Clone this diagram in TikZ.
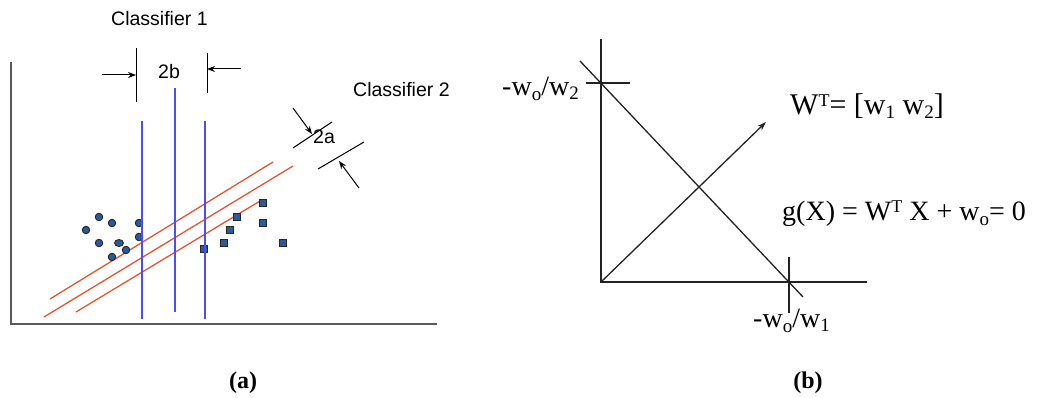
\documentclass[tikz,border=0pt]{standalone}
\usepackage{fontspec}
\setmainfont{Liberation Serif}
\newfontfamily\arialf{Liberation Sans}
\usetikzlibrary{arrows.meta,shapes.geometric}
\definecolor{axgray}{HTML}{5A5A5A}
\definecolor{clsblue}{HTML}{4B4BFF}
\definecolor{clsred}{HTML}{E2562F}
\definecolor{ptfill}{HTML}{2A5A9A}
\definecolor{inkb}{HTML}{222222}
\newcommand\mysub[2][5pt]{\raisebox{-#1}{\fontsize{19}{19}\selectfont #2}}
\newcommand\mysup[2][8pt]{\raisebox{#1}{\fontsize{18}{18}\selectfont #2}}
\begin{document}
\begin{tikzpicture}[x=1pt,y=-1pt,
  lbl/.style={inner sep=0pt, anchor=base west},
  sanslbl/.style={lbl, font=\arialf\fontsize{19.5}{19.5}\selectfont},
  seriflbl/.style={lbl, font=\fontsize{28}{28}\selectfont},
  caplbl/.style={inner sep=0pt, font=\bfseries\fontsize{24}{24}\selectfont},
  axisa/.style={draw=axgray, line width=1.6pt},
  axisb/.style={draw=inkb, line width=1.3pt},
  blueln/.style={draw=clsblue, line width=1.5pt},
  redln/.style={draw=clsred, line width=1.3pt},
  tickln/.style={draw=black, line width=1pt},
  smallarr/.style={draw=black, line width=1pt, -{Stealth[length=8pt,width=6pt]}},
  bigarr/.style={draw=inkb, line width=1.3pt, -{Stealth[length=9pt,width=6pt]}},
  circpt/.style={circle, draw=black!85, fill=ptfill, line width=0.9pt, minimum size=7.5pt, inner sep=0pt},
  ellpt/.style={ellipse, draw=black!85, fill=ptfill, line width=0.9pt, minimum width=9pt, minimum height=7pt, inner sep=0pt},
  sqpt/.style={rectangle, draw=black!85, fill=ptfill, line width=0.9pt, minimum size=#1, inner sep=0pt},
  sqpt/.default=7.5pt
]
\useasboundingbox (0,0) rectangle (1040,398);

% ---------------- panel (a) ----------------
\coordinate (a0) at (11,62);
\coordinate (a1) at (11,324);
\coordinate (a2) at (437,324);
\draw[axisa] (a0) -- (a1) -- (a2);

% red classifier lines
\coordinate (r1s) at (50,299);  \coordinate (r1e) at (273,162);
\coordinate (r2s) at (44,317);  \coordinate (r2e) at (293,166);
\coordinate (r3s) at (76,312);  \coordinate (r3e) at (260,201);
\draw[redln] (r1s) -- (r1e);
\draw[redln] (r2s) -- (r2e);
\draw[redln] (r3s) -- (r3e);

% points
\node[circpt] (c1) at (99,217) {};
\node[circpt] (c2) at (112,223) {};
\node[circpt] (c3) at (86,230) {};
\node[circpt] (c4) at (139,223) {};
\node[circpt] (c5) at (139,237) {};
\node[circpt] (c6) at (99,243) {};
\node[ellpt]  (c7) at (119,243) {};
\node[circpt] (c8) at (126,250) {};
\node[circpt] (c9) at (112,257) {};

\node[sqpt] (s1) at (263,203) {};
\node[sqpt] (s2) at (237,217) {};
\node[sqpt] (s3) at (263,223) {};
\node[sqpt=6.5pt] (s4) at (230,230) {};
\node[sqpt] (s5) at (224,243) {};
\node[sqpt=6.5pt] (s6) at (283,243) {};
\node[sqpt] (s7) at (204,249) {};

% blue classifier lines
\coordinate (b1s) at (142,121); \coordinate (b1e) at (142,319);
\coordinate (b2s) at (175,88);  \coordinate (b2e) at (175,312);
\coordinate (b3s) at (205,121); \coordinate (b3e) at (205,319);
\draw[blueln] (b1s) -- (b1e);
\draw[blueln] (b2s) -- (b2e);
\draw[blueln] (b3s) -- (b3e);

% 2b margin marks
\coordinate (t1s) at (136,48);  \coordinate (t1e) at (136,102);
\coordinate (t2s) at (207,53);  \coordinate (t2e) at (207,93);
\draw[tickln] (t1s) -- (t1e);
\draw[tickln] (t2s) -- (t2e);
\coordinate (ar1s) at (102,75); \coordinate (ar1e) at (136,75);
\coordinate (ar2s) at (241,69); \coordinate (ar2e) at (207,69);
\draw[smallarr] (ar1s) -- (ar1e);
\draw[smallarr] (ar2s) -- (ar2e);

% 2a margin marks
\coordinate (m1s) at (293,148); \coordinate (m1e) at (332,122);
\coordinate (m2s) at (318,169); \coordinate (m2e) at (364,142);
\draw[tickln] (m1s) -- (m1e);
\draw[tickln] (m2s) -- (m2e);
\coordinate (ar3s) at (293,108); \coordinate (ar3e) at (312,134);
\coordinate (ar4s) at (359,188); \coordinate (ar4e) at (339,161);
\draw[smallarr] (ar3s) -- (ar3e);
\draw[smallarr] (ar4s) -- (ar4e);

\node[sanslbl] (cls1) at (111,26) {Classifier 1};
\node[sanslbl] (lb2b) at (158,79) {2b};
\node[sanslbl] (cls2) at (353,97) {Classifier 2};
\node[sanslbl] (lb2a) at (313,144) {2a};

% ---------------- panel (b) ----------------
\coordinate (o) at (601,282);
\coordinate (yt) at (601,39);
\coordinate (xe) at (867,282);
\draw[axisb] (yt) -- (o) -- (xe);

\coordinate (h1s) at (586,83);  \coordinate (h1e) at (630,83);
\coordinate (v1s) at (789,257); \coordinate (v1e) at (789,313);
\draw[axisb] (h1s) -- (h1e);
\draw[axisb] (v1s) -- (v1e);

\coordinate (ds) at (580,61);
\coordinate (de) at (803,297);
\draw[axisb] (ds) -- (de);

\coordinate (wt) at (766,122);
\draw[bigarr] (o) -- (wt);

\node[seriflbl] (lw2) at (502,96) {-w\mysub{o}/w\mysub[4pt]{2}};
\node[seriflbl] (lw1) at (753,327) {-w\mysub{o}/w\mysub[4pt]{1}};
\node[seriflbl, font=\fontsize{30}{30}\selectfont] (lwt) at (790,115)
  {W\mysup{T}= [w\mysub[4pt]{1} w\mysub[4pt]{2}]};
\node[seriflbl] (lgx) at (782,220)
  {g(X) = W\mysup{T} X + w\mysub{o}= 0};

% captions
\node[caplbl] (capa) at (243,383) {(a)};
\node[caplbl] (capb) at (808,383) {(b)};
\end{tikzpicture}
\end{document}
